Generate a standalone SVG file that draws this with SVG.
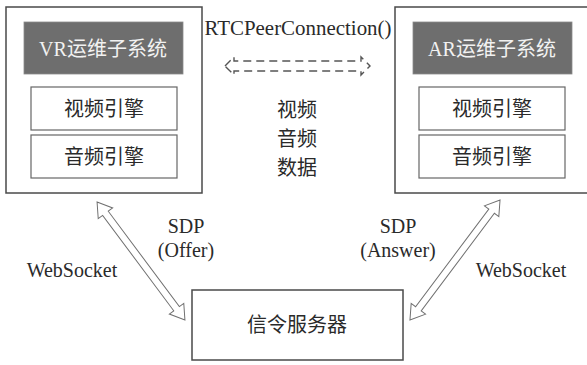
<svg xmlns="http://www.w3.org/2000/svg" width="587" height="365" viewBox="0 0 587 365">
  <style>
    text { font-family: "Liberation Serif", "Noto Sans CJK SC", serif; fill: #2a2a2a; text-anchor: middle; }
    .outer { fill: #ffffff; stroke: #4a4a4a; stroke-width: 1.5; }
    .head { fill: #6e6e6e; stroke: #8a8a8a; stroke-width: 0.8; }
    .head-text { fill: #f2f2f2; font-size: 20px; }
    .sub { fill: #ffffff; stroke: #666666; stroke-width: 1.2; }
    .lbl { font-size: 20px; }
    .hollow { fill: #ffffff; stroke: #707070; stroke-width: 1; }
    .dashed { fill: none; stroke: #555555; stroke-width: 1.4; stroke-dasharray: 8 5; }
  </style>

  <rect width="587" height="365" fill="#ffffff"/>

  <!-- VR subsystem -->
  <g id="vr-subsystem">
    <rect class="outer" x="6" y="7" width="196" height="186"/>
    <rect class="head" x="24" y="22" width="159" height="52"/>
    <text class="head-text" x="103" y="56">VR运维子系统</text>
    <g id="vr-video-engine">
      <rect class="sub" x="31" y="87" width="146" height="43"/>
      <text class="lbl" x="104" y="116">视频引擎</text>
    </g>
    <g id="vr-audio-engine">
      <rect class="sub" x="31" y="135" width="146" height="43"/>
      <text class="lbl" x="104" y="164">音频引擎</text>
    </g>
  </g>

  <!-- AR subsystem -->
  <g id="ar-subsystem">
    <rect class="outer" x="395" y="7" width="194" height="186"/>
    <rect class="head" x="413" y="22" width="159" height="52"/>
    <text class="head-text" x="492" y="56">AR运维子系统</text>
    <g id="ar-video-engine">
      <rect class="sub" x="419" y="87" width="146" height="43"/>
      <text class="lbl" x="492" y="116">视频引擎</text>
    </g>
    <g id="ar-audio-engine">
      <rect class="sub" x="419" y="135" width="146" height="43"/>
      <text class="lbl" x="492" y="164">音频引擎</text>
    </g>
  </g>

  <!-- signalling server -->
  <g id="signal-server">
    <rect class="outer" x="192" y="290" width="211" height="70"/>
    <text class="lbl" x="297" y="332">信令服务器</text>
  </g>

  <!-- connectors -->
  <g id="connectors">
    <!-- peer connection, dashed hollow double arrow -->
    <path class="dashed" d="M225,66 L234,57 L234,61 L361,61 L361,57 L370,66 L361,75 L361,71 L234,71 L234,75 Z"/>
    <!-- VR <-> signalling server -->
    <path class="hollow" transform="translate(141,261) rotate(53.3)"
          d="M-73.5,0 L-59.5,-9 L-59.5,-3.5 L59.5,-3.5 L59.5,-9 L73.5,0 L59.5,9 L59.5,3.5 L-59.5,3.5 L-59.5,9 Z"/>
    <!-- AR <-> signalling server -->
    <path class="hollow" transform="translate(455,260) rotate(126.9)"
          d="M-75,0 L-61,-9 L-61,-3.5 L61,-3.5 L61,-9 L75,0 L61,9 L61,3.5 L-61,3.5 L-61,9 Z"/>
  </g>

  <!-- labels -->
  <g id="labels">
    <text class="lbl" x="298" y="35" textLength="187" lengthAdjust="spacingAndGlyphs">RTCPeerConnection()</text>
    <text class="lbl" x="297" y="117">视频</text>
    <text class="lbl" x="297" y="146">音频</text>
    <text class="lbl" x="297" y="175">数据</text>
    <text class="lbl" x="186" y="233">SDP</text>
    <text class="lbl" x="186" y="257">(Offer)</text>
    <text class="lbl" x="72" y="277">WebSocket</text>
    <text class="lbl" x="398" y="233">SDP</text>
    <text class="lbl" x="398" y="257">(Answer)</text>
    <text class="lbl" x="521" y="277">WebSocket</text>
  </g>
</svg>
